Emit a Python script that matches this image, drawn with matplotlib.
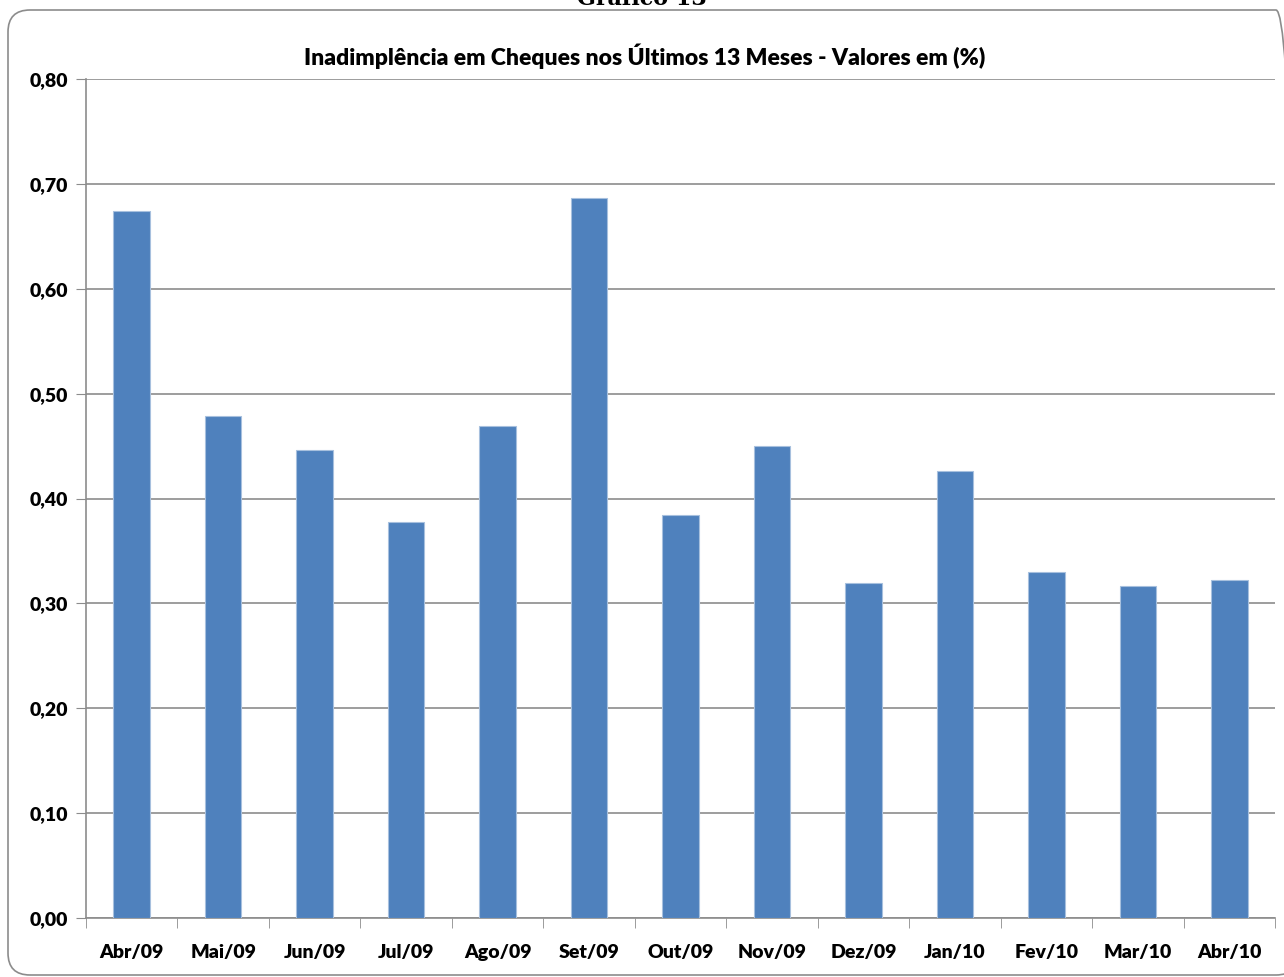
import matplotlib.pyplot as plt
import numpy as np
from matplotlib.patches import FancyBboxPatch

meses = ['Abr/09', 'Mai/09', 'Jun/09', 'Jul/09', 'Ago/09', 'Set/09', 'Out/09',
         'Nov/09', 'Dez/09', 'Jan/10', 'Fev/10', 'Mar/10', 'Abr/10']
valores = [0.674, 0.479, 0.446, 0.378, 0.469, 0.687, 0.384,
           0.450, 0.319, 0.426, 0.330, 0.317, 0.322]
y_ticks = [0.0, 0.1, 0.2, 0.3, 0.4, 0.5, 0.6, 0.7, 0.8]

plt.rcParams['font.family'] = ['Lato', 'DejaVu Sans']

fig = plt.figure(figsize=(12.84, 9.77), dpi=100)
W, H = 1284, 977

# moldura arredondada
borda = FancyBboxPatch((8, 2), 1290, 965, boxstyle='round,pad=0,rounding_size=22',
                       transform=None, facecolor='none', edgecolor='#8c8c8c',
                       linewidth=1.2, zorder=-1)
fig.patches.append(borda)

fig.text(0.5, 1 - 5 / H, 'Gráfico 13', ha='center', va='baseline',
         fontsize=16, fontweight='bold', family='DejaVu Serif')

ax = fig.add_axes([86 / W, 1 - 918 / H, (1275 - 86) / W, (918 - 79) / H])
ax.set_facecolor('none')

x = np.arange(len(meses))
ax.bar(x, valores, width=0.4, color='#4f81bd', edgecolor='#a7c0de', linewidth=0.8, zorder=3)

ax.set_xlim(-0.5, len(meses) - 0.5)
ax.set_ylim(0, 0.8)
ax.set_yticks(y_ticks)
ax.set_yticklabels([f'{v:.2f}'.replace('.', ',') for v in y_ticks],
                   fontsize=14, fontweight='heavy')
ax.set_xticks(x)
ax.set_xticklabels(meses, fontsize=14, fontweight='heavy')
ax.set_xticks(np.arange(len(meses) + 1) - 0.5, minor=True)
ax.tick_params(axis='x', which='major', length=0, pad=19)
ax.tick_params(axis='x', which='minor', length=7, color='#8c8c8c', direction='out')
ax.tick_params(axis='y', length=7, color='#8c8c8c', direction='out', pad=6)

ax.grid(axis='y', color='#8c8c8c', linewidth=1.2, zorder=0)
for s in ['top', 'right']:
    ax.spines[s].set_visible(False)
for s in ['left', 'bottom']:
    ax.spines[s].set_color('#8c8c8c')
    ax.spines[s].set_linewidth(1.2)

fig.text(645 / W, 1 - 56 / H, 'Inadimplência em Cheques nos Últimos 13 Meses - Valores em (%)',
         ha='center', va='center', fontsize=16.5, fontweight='heavy')

fig.savefig('out.png', dpi=100)
